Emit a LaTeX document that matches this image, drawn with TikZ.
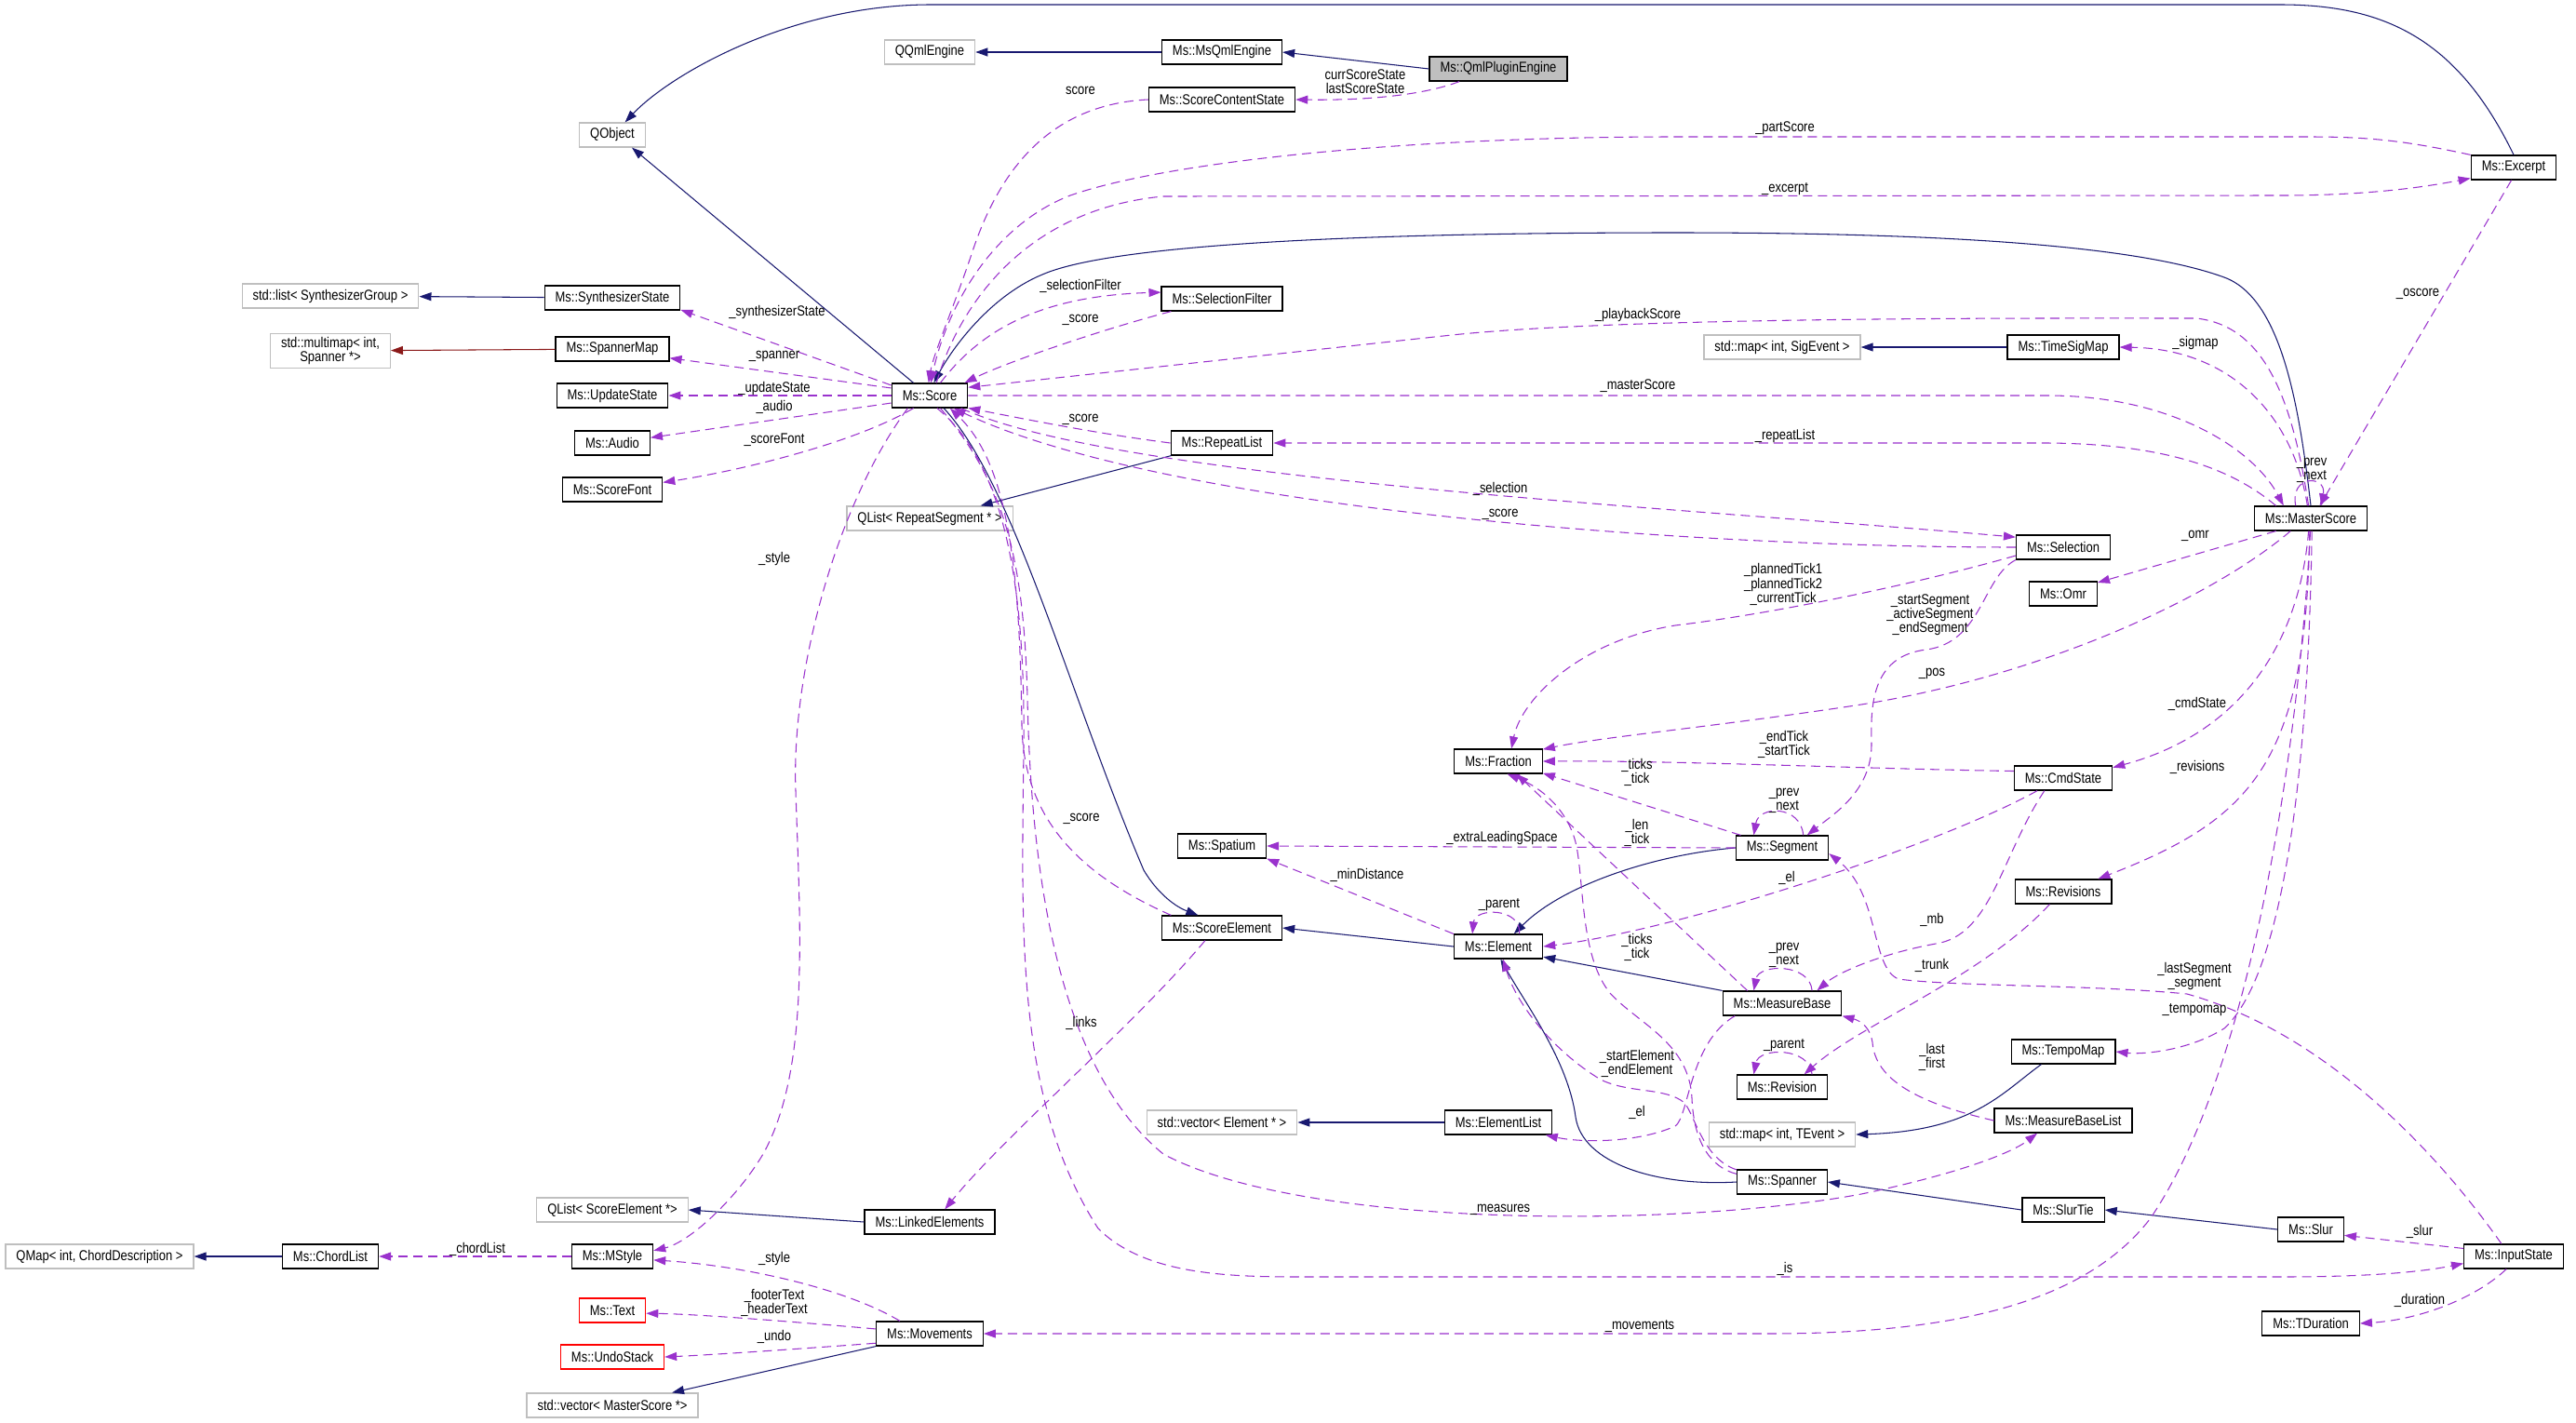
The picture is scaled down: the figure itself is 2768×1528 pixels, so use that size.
\documentclass[tikz,border=0pt]{standalone}
\usepackage{fontspec}
\setmainfont{Liberation Sans}[FakeStretch=0.84]
\usetikzlibrary{arrows.meta}
\definecolor{inhblue}{HTML}{191970}
\definecolor{usepurple}{HTML}{9A32CD}
\definecolor{tmplred}{HTML}{8B1A1A}
\definecolor{extgray}{HTML}{BFBFBF}

\begin{document}
\begin{tikzpicture}[
      x=0.02cm, y=-0.02cm,
      font=\fontsize{8.8}{8.6}\selectfont,
      cls/.style={draw=black, fill=white, line width=0.7pt, minimum height=0.52cm, inner xsep=0.23cm, inner ysep=0.08cm, align=center},
      ext/.style={cls, draw=extgray},
      undoc/.style={cls, draw=red},
      focus/.style={cls, fill=extgray},
      inh/.style={draw=inhblue, line width=0.6pt, -{Triangle[length=0.26cm, width=0.18cm]}},
      tmpl/.style={inh, draw=tmplred},
      usage/.style={draw=usepurple, line width=0.6pt, dash pattern=on 0.2cm off 0.12cm, -{Triangle[length=0.26cm, width=0.18cm]}},
      lbl/.style={inner sep=0pt, align=center}
    ]
    \path[fill=white, use as bounding box] (0,0) rectangle (2768,1528);

    \node[ext] (qmap) at (107,1350) {QMap< int, ChordDescription >};
    \node[ext] (stdlist) at (355,318) {std::list< SynthesizerGroup >};
    \node[ext] (multimap) at (355,377) {std::multimap< int,\\Spanner *>};
    \node[cls] (chordlist) at (355,1350) {Ms::ChordList};
    \node[ext] (qobject) at (658,145) {QObject};
    \node[cls] (synthstate) at (658,320) {Ms::SynthesizerState};
    \node[cls] (spannermap) at (658,375) {Ms::SpannerMap};
    \node[cls] (updatestate) at (658,425) {Ms::UpdateState};
    \node[cls] (audio) at (658,476) {Ms::Audio};
    \node[cls] (scorefont) at (658,526) {Ms::ScoreFont};
    \node[ext] (qlistse) at (658,1300) {QList< ScoreElement *>};
    \node[cls] (mstyle) at (658,1350) {Ms::MStyle};
    \node[undoc] (mstext) at (658,1408) {Ms::Text};
    \node[undoc] (undostack) at (658,1458) {Ms::UndoStack};
    \node[ext] (vecms) at (658,1510) {std::vector< MasterScore *>};
    \node[ext] (qqml) at (999,56) {QQmlEngine};
    \node[cls] (score) at (999,425) {Ms::Score};
    \node[ext] (qlistrs) at (999,557) {QList< RepeatSegment * >};
    \node[cls] (linked) at (999,1313) {Ms::LinkedElements};
    \node[cls] (movements) at (999,1433) {Ms::Movements};
    \node[cls] (msqml) at (1313,56) {Ms::MsQmlEngine};
    \node[cls] (contentstate) at (1313,107) {Ms::ScoreContentState};
    \node[cls] (selfilter) at (1313,321) {Ms::SelectionFilter};
    \node[cls] (repeatlist) at (1313,476) {Ms::RepeatList};
    \node[cls] (spatium) at (1313,909) {Ms::Spatium};
    \node[cls] (scoreelement) at (1313,997) {Ms::ScoreElement};
    \node[ext] (vecel) at (1313,1206) {std::vector< Element * >};
    \node[focus] (qmlplugin) at (1610,74) {Ms::QmlPluginEngine};
    \node[cls] (fraction) at (1610,818) {Ms::Fraction};
    \node[cls] (element) at (1610,1017) {Ms::Element};
    \node[cls] (elementlist) at (1610,1206) {Ms::ElementList};
    \node[ext] (sigevent) at (1915,373) {std::map< int, SigEvent >};
    \node[cls] (segment) at (1915,911) {Ms::Segment};
    \node[cls] (measurebase) at (1915,1078) {Ms::MeasureBase};
    \node[cls] (revision) at (1915,1168) {Ms::Revision};
    \node[ext] (tevent) at (1915,1219) {std::map< int, TEvent >};
    \node[cls] (spanner) at (1915,1270) {Ms::Spanner};
    \node[cls] (timesigmap) at (2217,373) {Ms::TimeSigMap};
    \node[cls] (selection) at (2217,588) {Ms::Selection};
    \node[cls] (omr) at (2217,638) {Ms::Omr};
    \node[cls] (cmdstate) at (2217,836) {Ms::CmdState};
    \node[cls] (revisions) at (2217,958) {Ms::Revisions};
    \node[cls] (tempomap) at (2217,1130) {Ms::TempoMap};
    \node[cls] (mblist) at (2217,1204) {Ms::MeasureBaseList};
    \node[cls] (slurtie) at (2217,1300) {Ms::SlurTie};
    \node[cls] (masterscore) at (2483,557) {Ms::MasterScore};
    \node[cls] (slur) at (2483,1321) {Ms::Slur};
    \node[cls] (tduration) at (2483,1422) {Ms::TDuration};
    \node[cls] (excerpt) at (2701,180) {Ms::Excerpt};
    \node[cls] (inputstate) at (2701,1350) {Ms::InputState};

    % base classes
    \draw[inh] (msqml) -- (qqml);
    \draw[inh] (qmlplugin.west) -- (msqml.east);
    \draw[inh] (excerpt.north) .. controls (2640,40) and (2560,5) .. (2450,5) -- (1000,5) .. controls (850,5) and (720,80) .. (qobject.45);
    \draw[inh] (score.142) -- (qobject.-33);
    \draw[inh] (synthstate) -- (stdlist);
    \draw[tmpl] (spannermap) -- (multimap);
    \draw[inh] (repeatlist.-166) -- (qlistrs.14);
    \draw[inh] (masterscore.north) .. controls (2470,430) and (2450,320) .. (2390,298) .. controls (2300,265) and (2100,250) .. (1800,250) .. controls (1500,250) and (1200,260) .. (1120,295) .. controls (1060,320) and (1020,380) .. (score.72);
    \draw[inh] (timesigmap) -- (sigevent);
    \draw[inh] (score.-42) .. controls (1090,520) and (1150,750) .. (1229,935) .. controls (1245,962) and (1265,975) .. (scoreelement.152);
    \draw[inh] (element.west) -- (scoreelement.east);
    \draw[inh] (segment.west) .. controls (1780,918) and (1680,950) .. (element.39);
    \draw[inh] (measurebase.north west) -- (element.-13);
    \draw[inh] (spanner.west) .. controls (1780,1275) and (1700,1250) .. (1693,1200) .. controls (1685,1140) and (1640,1080) .. (element.-80);
    \draw[inh] (elementlist) -- (vecel);
    \draw[inh] (tempomap.-150) .. controls (2150,1175) and (2120,1215) .. (tevent.east);
    \draw[inh] (slurtie.west) -- (spanner.east);
    \draw[inh] (slur.west) -- (slurtie.east);
    \draw[inh] (linked.west) -- (qlistse.east);
    \draw[inh] (chordlist) -- (qmap);
    \draw[inh] (movements.south west) -- (vecms.12);

    % members
    \draw[usage] (qmlplugin.-162) .. controls (1530,102) and (1470,108) .. (contentstate.east);
    \draw[usage] (contentstate.west) .. controls (1130,112) and (1075,180) .. (1045,270) .. controls (1025,330) and (1003,380) .. (score.95);
    \draw[usage] (excerpt.north west) .. controls (2580,150) and (2540,147) .. (2480,147) -- (1800,147) .. controls (1500,147) and (1250,175) .. (1150,210) .. controls (1060,245) and (1015,340) .. (score.85);
    \draw[usage] (score.62) .. controls (1030,330) and (1100,225) .. (1250,211) -- (2450,210) .. controls (2550,210) and (2610,200) .. (excerpt.-166);
    \draw[usage] (score.50) .. controls (1050,360) and (1110,318) .. (selfilter.174);
    \draw[usage] (selfilter.-166) .. controls (1180,355) and (1080,390) .. (score.20);
    \draw[usage] (masterscore.100) .. controls (2462,420) and (2430,350) .. (2360,342) .. controls (2200,342) and (1750,340) .. (1560,360) .. controls (1300,388) and (1100,410) .. (score.12);
    \draw[usage] (score.165) -- (synthstate.-10);
    \draw[usage] (score.169) -- (spannermap.-9);
    \draw[usage] (score.west) -- (updatestate.east);
    \draw[usage] (score.-169) -- (audio.8);
    \draw[usage] (score.-142) .. controls (920,475) and (800,505) .. (scorefont.8);
    \draw[usage] (score.east) -- (2200,425) .. controls (2330,425) and (2420,480) .. (masterscore.155);
    \draw[usage] (masterscore.160) .. controls (2400,505) and (2330,477) .. (2200,476) -- (repeatlist.east);
    \draw[usage] (repeatlist.west) .. controls (1180,466) and (1110,452) .. (score.-18);
    \draw[usage] (score.-22) .. controls (1200,515) and (1800,545) .. (selection.168);
    \draw[usage] (selection.west) .. controls (1800,588) and (1250,545) .. (score.-28);
    \draw[usage] (excerpt.-100) -- (masterscore.55);
    \draw[usage] (masterscore.140) .. controls (2460,510) and (2500,510) .. (masterscore.50);
    \draw[usage] (masterscore.105) .. controls (2465,450) and (2400,375) .. (timesigmap.east);
    \draw[usage] (masterscore.-160) -- (omr.18);
    \draw[usage] (selection.-170) .. controls (2050,630) and (1900,660) .. (1800,672) .. controls (1700,688) and (1635,750) .. (fraction.44);
    \draw[usage] (selection.south west) .. controls (2130,620) and (2130,690) .. (2070,698) .. controls (2010,705) and (2010,760) .. (2011,800) .. controls (2011,850) and (1970,875) .. (segment.27);
    \draw[usage] (masterscore.-148) .. controls (2380,640) and (2200,725) .. (2000,757) .. controls (1850,780) and (1720,792) .. (fraction.15);
    \draw[usage] (masterscore.-100) .. controls (2470,700) and (2400,790) .. (cmdstate.12);
    \draw[usage] (masterscore.-95) .. controls (2478,820) and (2420,880) .. (revisions.20);
    \draw[usage] (cmdstate.172) .. controls (2000,826) and (1800,817) .. (fraction.east);
    \draw[usage] (segment.163) -- (fraction.-15);
    \draw[usage] (segment.31) .. controls (1935,865) and (1890,865) .. (segment.156);
    \draw[usage] (segment.west) -- (spatium.east);
    \draw[usage] (measurebase.160) -- (fraction.-35);
    \draw[usage] (spanner.170) .. controls (1840,1255) and (1820,1230) .. (1818,1180) .. controls (1815,1120) and (1760,1100) .. (1730,1067) .. controls (1700,1030) and (1702,960) .. (1695,915) .. controls (1690,880) and (1665,850) .. (fraction.-55);
    \draw[usage] (spanner.165) .. controls (1830,1245) and (1822,1200) .. (1810,1185) .. controls (1790,1168) and (1750,1175) .. (1720,1160) .. controls (1670,1130) and (1630,1080) .. (element.-70);
    \draw[usage] (measurebase.23) .. controls (1945,1035) and (1890,1035) .. (measurebase.156);
    \draw[usage] (revision.23) .. controls (1945,1125) and (1890,1125) .. (revision.156);
    \draw[usage] (element.31) .. controls (1635,975) and (1585,975) .. (element.154);
    \draw[usage] (element.north west) -- (spatium.south east);
    \draw[usage] (cmdstate.-154) .. controls (2080,910) and (1800,1000) .. (element.east);
    \draw[usage] (cmdstate.-146) .. controls (2150,920) and (2140,1005) .. (2080,1014) .. controls (2020,1025) and (1975,1045) .. (measurebase.20);
    \draw[usage] (revisions.-137) .. controls (2130,1050) and (2000,1100) .. (revision.30);
    \draw[usage] (mblist.west) .. controls (2060,1185) and (2015,1160) .. (2012,1120) .. controls (2010,1105) and (2000,1097) .. (measurebase.south east);
    \draw[usage] (measurebase.-165) .. controls (1815,1120) and (1815,1200) .. (1800,1210) .. controls (1760,1228) and (1700,1228) .. (elementlist.-15);
    \draw[usage] (scoreelement.-143) .. controls (1220,1100) and (1080,1220) .. (linked.40);
    \draw[usage] (scoreelement.166) .. controls (1160,940) and (1100,880) .. (1098,780) .. controls (1096,620) and (1085,500) .. (score.-32);
    \draw[usage] (score.-150) .. controls (900,540) and (850,720) .. (855,850) .. controls (860,1000) and (870,1150) .. (820,1240) .. controls (790,1290) and (740,1335) .. (mstyle.8);
    \draw[usage] (mstyle.west) -- (chordlist.east);
    \draw[usage] (movements.157) .. controls (910,1385) and (800,1360) .. (mstyle.-5);
    \draw[usage] (movements.175) .. controls (850,1420) and (750,1412) .. (mstext.-5);
    \draw[usage] (movements.-170) .. controls (850,1450) and (760,1456) .. (undostack.east);
    \draw[usage] (masterscore.-92) .. controls (2470,800) and (2420,1150) .. (2310,1310) .. controls (2240,1400) and (2100,1433) .. (1900,1433) -- (movements.east);
    \draw[usage] (masterscore.-85) .. controls (2480,850) and (2450,1050) .. (2390,1105) .. controls (2350,1130) and (2300,1133) .. (tempomap.east);
    \draw[usage] (inputstate.134) .. controls (2620,1240) and (2500,1110) .. (2350,1068) .. controls (2250,1058) and (2100,1060) .. (2040,1052) .. controls (2010,1040) and (2020,960) .. (segment.-7);
    \draw[usage] (inputstate.171) -- (slur.-10);
    \draw[usage] (inputstate.-120) .. controls (2660,1395) and (2600,1418) .. (tduration.east);
    \draw[usage] (score.-60) .. controls (1070,490) and (1102,600) .. (1100,800) .. controls (1098,1000) and (1090,1180) .. (1180,1320) .. controls (1230,1370) and (1320,1372) .. (1400,1372) -- (2450,1372) .. controls (2560,1372) and (2610,1365) .. (inputstate.-172);
    \draw[usage] (score.-50) .. controls (1080,520) and (1100,600) .. (1104,750) .. controls (1108,950) and (1140,1150) .. (1250,1240) .. controls (1400,1320) and (1800,1320) .. (2000,1283) .. controls (2100,1262) and (2160,1240) .. (mblist.-154);

    \node[lbl] (lcurr) at (1467,88) {currScoreState\\lastScoreState};
    \node[lbl] (lscorecs) at (1161,97) {score};
    \node[lbl] (lpart) at (1918,138) {\_partScore};
    \node[lbl] (lexcerpt) at (1918,203) {\_excerpt};
    \node[lbl] (lselfilter) at (1161,307) {\_selectionFilter};
    \node[lbl] (lscoresf) at (1161,344) {\_score};
    \node[lbl] (lplayback) at (1760,338) {\_playbackScore};
    \node[lbl] (lsynth) at (835,335) {\_synthesizerState};
    \node[lbl] (lspanner) at (832,383) {\_spanner};
    \node[lbl] (lupdate) at (832,417) {\_updateState};
    \node[lbl] (laudio) at (832,437) {\_audio};
    \node[lbl] (lfont) at (832,473) {\_scoreFont};
    \node[lbl] (lmaster) at (1760,415) {\_masterScore};
    \node[lbl] (lrepeat) at (1918,468) {\_repeatList};
    \node[lbl] (lscorerl) at (1161,451) {\_score};
    \node[lbl] (lselection) at (1612,525) {\_selection};
    \node[lbl] (lscoresel) at (1612,553) {\_score};
    \node[lbl] (loscore) at (2598,316) {\_oscore};
    \node[lbl] (lmsprev) at (2484,505) {\_prev\\\_next};
    \node[lbl] (lsigmap) at (2359,368) {\_sigmap};
    \node[lbl] (lomr) at (2359,576) {\_omr};
    \node[lbl] (lplanned) at (1916,628) {\_plannedTick1\\\_plannedTick2\\\_currentTick};
    \node[lbl] (lsegs) at (2074,661) {\_startSegment\\\_activeSegment\\\_endSegment};
    \node[lbl] (lpos) at (2076,724) {\_pos};
    \node[lbl] (lcmd) at (2361,756) {\_cmdState};
    \node[lbl] (lrev) at (2361,824) {\_revisions};
    \node[lbl] (lticks) at (1917,800) {\_endTick\\\_startTick};
    \node[lbl] (lsegtick) at (1759,830) {\_ticks\\\_tick};
    \node[lbl] (lsegprev) at (1917,860) {\_prev\\\_next};
    \node[lbl] (lextra) at (1614,900) {\_extraLeadingSpace};
    \node[lbl] (llen) at (1759,895) {\_len\\\_tick};
    \node[lbl] (lmin) at (1469,940) {\_minDistance};
    \node[lbl] (lel) at (1920,943) {\_el};
    \node[lbl] (lelparent) at (1611,972) {\_parent};
    \node[lbl] (lmb) at (2076,988) {\_mb};
    \node[lbl] (lsptick) at (1759,1018) {\_ticks\\\_tick};
    \node[lbl] (lmbprev) at (1917,1026) {\_prev\\\_next};
    \node[lbl] (ltrunk) at (2076,1037) {\_trunk};
    \node[lbl] (llastseg) at (2358,1049) {\_lastSegment\\\_segment};
    \node[lbl] (ltempo) at (2358,1085) {\_tempomap};
    \node[lbl] (lrevparent) at (1917,1123) {\_parent};
    \node[lbl] (llast) at (2076,1136) {\_last\\\_first};
    \node[lbl] (lstartel) at (1759,1143) {\_startElement\\\_endElement};
    \node[lbl] (lelml) at (1759,1195) {\_el};
    \node[lbl] (lscorese) at (1162,880) {\_score};
    \node[lbl] (lstyle) at (832,600) {\_style};
    \node[lbl] (llinks) at (1162,1099) {\_links};
    \node[lbl] (lmeasures) at (1612,1300) {\_measures};
    \node[lbl] (lchord) at (513,1342) {\_chordList};
    \node[lbl] (lstylemv) at (832,1352) {\_style};
    \node[lbl] (lslur) at (2600,1323) {\_slur};
    \node[lbl] (lis) at (1918,1363) {\_is};
    \node[lbl] (lfooter) at (832,1400) {\_footerText\\\_headerText};
    \node[lbl] (lmovements) at (1762,1425) {\_movements};
    \node[lbl] (lundo) at (832,1436) {\_undo};
    \node[lbl] (lduration) at (2600,1397) {\_duration};
  \end{tikzpicture}
\end{document}
